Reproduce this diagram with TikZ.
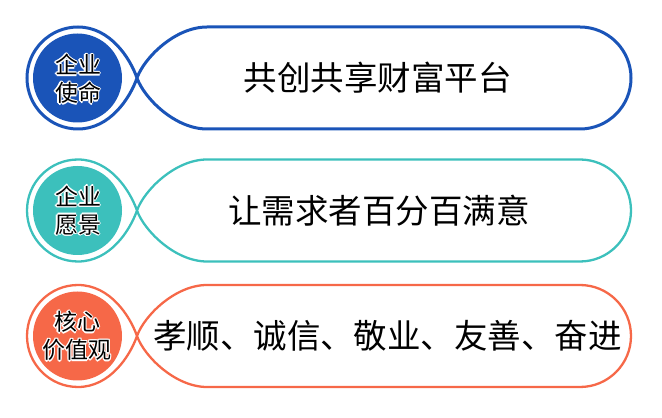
\documentclass[tikz,border=0pt]{standalone}
\usepackage{fontspec}
\setmainfont{Noto Sans CJK SC}
\definecolor{cblue}{RGB}{26,84,184}
\definecolor{cteal}{RGB}{60,192,188}
\definecolor{corange}{RGB}{246,104,72}
\tikzset{
  main/.style={inner sep=0pt, font=\fontsize{33.5}{36}\selectfont, text=black},
  lab/.style={inner sep=0pt, align=center, font=\fontsize{23}{28}\selectfont, text=black},
  labw/.style={lab, text=white},
}
\newcommand\ribbon[2]{% #1 colour, #2 line width
  \draw[#1, line width=#2]
    (137,0) .. controls (130,20) and (110,51) .. (78,51)
    arc[start angle=90, end angle=270, radius=51]
    .. controls (110,-51) and (130,-20) .. (137,0)
    .. controls (144,20) and (175,51) .. (207,51)
    -- (580,51) arc[start angle=90, end angle=-90, radius=51]
    -- (207,-51) .. controls (175,-51) and (144,-20) .. (137,0) -- cycle;
  \fill[#1] (77.5,0) circle[radius=44.5];
}
\newcommand\olab[3]{% #1 name, #2 position, #3 text
  \foreach \a in {0,45,...,315}{\node[labw] (#1w\a) at ([shift={(\a:1.4)}]#2) {#3};}
  \node[lab] (#1) at (#2) {#3};
}
\begin{document}
\begin{tikzpicture}[x=1pt,y=1pt]
\useasboundingbox (0,0) rectangle (662,418);
\begin{scope}[shift={(0,340)}]
  \ribbon{cblue}{3}
  \olab{l1}{78,-1}{企业\\使命}
  \node[main] (t1) at (377.5,0) {共创共享财富平台};
\end{scope}
\begin{scope}[shift={(0,207.5)}]
  \ribbon{cteal}{2.3}
  \olab{l2}{78,0}{企业\\愿景}
  \node[main] (t2) at (379,0) {让需求者百分百满意};
\end{scope}
\begin{scope}[shift={(0,82)}]
  \ribbon{corange}{2.3}
  \olab{l3}{77,0}{核心\\价值观}
  \node[main] (t3) at (387.5,0) {孝顺、诚信、敬业、友善、奋进};
\end{scope}
\end{tikzpicture}
\end{document}
